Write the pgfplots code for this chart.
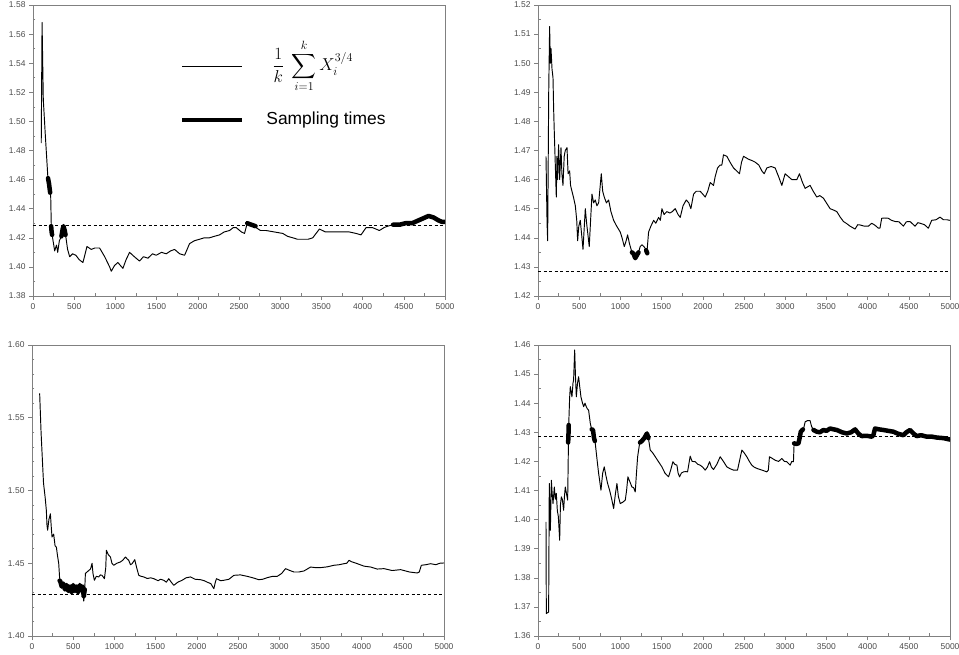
\documentclass[border=0pt]{standalone}
\usepackage{amsmath}
\usepackage{exscale}
\usepackage{fontspec}
\usepackage{pgfplots}
\pgfplotsset{compat=1.18}
\newfontfamily\lsans{Liberation Sans}

\pgfplotsset{
  panel/.style={
    scale only axis, width=412bp, height=291bp, anchor=south west,
    xmin=0, xmax=5000, xtick={0,500,...,5000}, minor x tick num=1,
    tick pos=left, tick align=outside,
    major tick length=4bp, minor tick length=-2.5bp,
    axis line style={black!50, line width=0.6bp},
    tick style={black!50, line width=0.5bp},
    ticklabel style={font=\lsans\fontsize{8.5}{9}\selectfont, text=black!70},
    /pgf/number format/assume math mode=true,
    x tick label style={/pgf/number format/1000 sep={}},
    y tick label style={/pgf/number format/fixed, /pgf/number format/fixed zerofill,
      /pgf/number format/precision=2},
    scaled ticks=false,
  },
  curve/.style={black, line width=0.95bp, line join=round},
  samp/.style={black, line width=4.5bp, line cap=round, line join=round},
  truth/.style={black, line width=0.6bp, dash pattern=on 3bp off 2.5bp},
}

\begin{document}
\begin{tikzpicture}
\path[use as bounding box] (0,0) rectangle (959bp,655bp);

% ---------- top left ----------
\begin{axis}[panel, at={(33bp,359bp)},
  ymin=1.38, ymax=1.58, ytick={1.38,1.40,1.42,1.44,1.46,1.48,1.50,1.52,1.54,1.56,1.58},
  minor y tick num=1,
  legend style={draw=none, fill=none, at={(0.356,0.883)}, anchor=north west,
    inner sep=0pt, nodes={inner sep=0pt, text depth=}, row sep=19bp,
    /tikz/every odd column/.append style={column sep=22bp}},
  legend cell align=left,
  legend image code/.code={\draw[#1] (0bp,0bp) -- (60bp,0bp);},
]
\addplot[truth, forget plot] coordinates {(0,1.4286) (5000,1.4286)};
\addplot[curve, forget plot] table {
100 1.485
110 1.568
125 1.515
150 1.490
180 1.462
200 1.455
215 1.448
222 1.428
232 1.422
263 1.411
285 1.415
300 1.410
320 1.418
345 1.421
370 1.428
395 1.422
420 1.412
445 1.407
480 1.409
520 1.408
560 1.405
606 1.403
655 1.414
707 1.412
750 1.413
808 1.413
870 1.407
930 1.400
950 1.397
990 1.401
1030 1.403
1091 1.399
1130 1.405
1172 1.410
1230 1.407
1293 1.404
1340 1.407
1395 1.406
1450 1.409
1495 1.408
1560 1.410
1617 1.409
1670 1.411
1718 1.412
1780 1.409
1840 1.408
1900 1.416
1960 1.418
2021 1.419
2080 1.420
2142 1.420
2200 1.421
2264 1.422
2320 1.424
2385 1.425
2430 1.427
2466 1.427
2530 1.424
2567 1.423
2600 1.430
2650 1.429
2708 1.427
2760 1.425
2829 1.425
2930 1.424
3031 1.423
3090 1.421
3153 1.420
3210 1.419
3274 1.419
3340 1.419
3395 1.420
3476 1.426
3550 1.424
3638 1.424
3740 1.424
3840 1.424
3920 1.423
3981 1.422
4042 1.427
4120 1.427
4204 1.425
4260 1.427
4305 1.428
4370 1.429
4450 1.429
4520 1.430
4600 1.430
4680 1.432
4760 1.434
4800 1.435
4860 1.434
4920 1.432
4960 1.431
5000 1.431
};
\addplot[samp, forget plot] coordinates {(182,1.461) (195,1.457) (208,1.451)};
\addplot[samp, forget plot] coordinates {(220,1.428) (226,1.424) (232,1.422)};
\addplot[samp, forget plot] coordinates {(345,1.421) (360,1.426) (370,1.428) (385,1.425) (395,1.422)};
\addplot[samp, forget plot] coordinates {(2600,1.430) (2650,1.429) (2700,1.428)};
\addplot[samp, forget plot] coordinates {(4370,1.429) (4450,1.429) (4520,1.430) (4600,1.430)
  (4680,1.432) (4760,1.434) (4800,1.435) (4860,1.434) (4920,1.432) (4960,1.431) (5000,1.431)};
\addlegendimage{black, line width=0.7bp}
\addlegendentry{\hspace*{6bp}\fontsize{18.5}{22}\selectfont$\displaystyle\frac{1}{k}\;\sum_{i=1}^{k}X_i^{3/4}$}
\addlegendimage{black, line width=4.5bp}
\addlegendentry{\lsans\fontsize{17.5}{20}\selectfont Sampling times}
\end{axis}

% ---------- top right ----------
\begin{axis}[panel, at={(538bp,359bp)},
  ymin=1.42, ymax=1.52, ytick={1.42,1.43,1.44,1.45,1.46,1.47,1.48,1.49,1.50,1.51,1.52},
  minor y tick num=1]
\addplot[truth] coordinates {(0,1.4286) (5000,1.4286)};
\addplot[curve] table {
97 1.468
110 1.445
117 1.439
130 1.490
141 1.5126
150 1.500
158 1.505
170 1.498
182 1.495
190 1.484
198 1.476
210 1.465
222 1.454
230 1.468
238 1.460
250 1.472
263 1.460
279 1.471
290 1.462
303 1.458
318 1.468
331 1.470
352 1.471
365 1.462
384 1.463
395 1.458
412 1.456
430 1.454
453 1.451
470 1.446
481 1.439
495 1.444
513 1.446
530 1.441
546 1.436
560 1.443
574 1.450
590 1.445
602 1.442
622 1.437
640 1.447
655 1.455
675 1.452
695 1.453
715 1.451
736 1.452
768 1.462
785 1.456
804 1.454
830 1.452
857 1.453
885 1.449
918 1.446
955 1.444
998 1.442
1020 1.440
1047 1.437
1070 1.439
1087 1.441
1110 1.438
1140 1.435
1160 1.4345
1180 1.433
1200 1.434
1220 1.435
1240 1.437
1261 1.4376
1285 1.437
1310 1.436
1322 1.435
1342 1.442
1370 1.444
1403 1.446
1430 1.445
1463 1.447
1485 1.446
1504 1.450
1530 1.448
1564 1.449
1600 1.4485
1630 1.449
1665 1.450
1700 1.448
1726 1.447
1760 1.451
1799 1.453
1830 1.452
1855 1.450
1888 1.455
1920 1.456
1968 1.456
2000 1.455
2029 1.454
2060 1.456
2090 1.459
2130 1.458
2150 1.461
2179 1.464
2210 1.465
2231 1.465
2251 1.4685
2292 1.468
2330 1.466
2373 1.464
2410 1.463
2445 1.462
2470 1.466
2494 1.468
2555 1.467
2600 1.4665
2635 1.466
2680 1.465
2716 1.463
2745 1.462
2777 1.464
2830 1.4645
2878 1.464
2920 1.461
2959 1.458
2999 1.462
3040 1.461
3080 1.460
3141 1.460
3173 1.462
3210 1.459
3242 1.457
3302 1.458
3340 1.456
3383 1.454
3420 1.4545
3464 1.4536
3500 1.452
3545 1.450
3590 1.4495
3626 1.449
3670 1.447
3707 1.4456
3750 1.4448
3787 1.444
3848 1.443
3880 1.4445
3909 1.4444
3960 1.4440
4010 1.444
4050 1.445
4090 1.4443
4131 1.4433
4150 1.4433
4171 1.4467
4210 1.4468
4252 1.4467
4290 1.446
4333 1.4456
4380 1.4455
4434 1.444
4470 1.4455
4515 1.4456
4545 1.4448
4576 1.444
4610 1.4452
4636 1.445
4690 1.4445
4737 1.4433
4778 1.446
4830 1.4462
4879 1.4471
4920 1.4462
4960 1.4462
5000 1.446
};
\addplot[samp] coordinates {(1140,1.435) (1160,1.4345) (1180,1.433) (1200,1.434) (1220,1.435)};
\addplot[samp] coordinates {(1312,1.4357) (1326,1.4347)};
\end{axis}

% ---------- bottom left ----------
\begin{axis}[panel, at={(32bp,19bp)},
  ymin=1.40, ymax=1.60, ytick={1.40,1.45,1.50,1.55,1.60},
  minor y tick num=4]
\addplot[truth] coordinates {(0,1.4286) (5000,1.4286)};
\addplot[curve] table {
93 1.5667
110 1.540
134 1.5117
140 1.505
150 1.500
160 1.495
174 1.4864
182 1.476
190 1.4727
205 1.480
223 1.484
235 1.474
243 1.468
263 1.470
280 1.462
296 1.461
310 1.455
324 1.450
335 1.440
344 1.4383
360 1.434
380 1.436
400 1.432
420 1.435
440 1.431
460 1.434
480 1.430
500 1.435
520 1.431
540 1.434
560 1.430
580 1.435
600 1.432
615 1.434
628 1.424
640 1.432
648 1.443
668 1.444
688 1.445
710 1.446
729 1.450
740 1.443
757 1.4383
780 1.441
810 1.4406
830 1.442
850 1.4417
879 1.4394
895 1.447
903 1.4589
925 1.456
952 1.4543
970 1.450
992 1.4486
1030 1.450
1073 1.4509
1100 1.452
1134 1.4543
1155 1.453
1174 1.452
1195 1.449
1215 1.4497
1247 1.4525
1270 1.447
1296 1.4417
1325 1.441
1356 1.4406
1400 1.4395
1440 1.440
1478 1.4394
1530 1.438
1560 1.439
1599 1.4383
1630 1.437
1660 1.4394
1690 1.437
1721 1.4348
1770 1.437
1822 1.4383
1870 1.440
1923 1.4406
1980 1.439
2045 1.4387
2090 1.438
2126 1.437
2170 1.436
2207 1.4325
2225 1.437
2239 1.4394
2290 1.438
2328 1.4383
2390 1.439
2450 1.4417
2530 1.442
2612 1.441
2680 1.440
2753 1.4387
2800 1.439
2855 1.4401
2920 1.441
2976 1.441
3030 1.443
3077 1.4463
3130 1.445
3178 1.444
3240 1.444
3300 1.4447
3340 1.446
3381 1.4474
3440 1.447
3502 1.447
3580 1.4475
3664 1.4486
3730 1.449
3786 1.4497
3820 1.450
3847 1.452
3880 1.451
3948 1.4497
4030 1.448
4110 1.4474
4190 1.446
4272 1.4463
4370 1.445
4474 1.4456
4580 1.444
4676 1.4433
4700 1.444
4725 1.4486
4780 1.449
4839 1.4497
4900 1.449
4950 1.450
5000 1.4502
};
\addplot[samp] coordinates {(335,1.438) (344,1.4375) (360,1.434) (380,1.436) (400,1.432)
  (420,1.435) (440,1.431) (460,1.434) (480,1.430) (500,1.435) (520,1.431) (540,1.434)
  (560,1.430) (580,1.435) (600,1.432) (615,1.434) (628,1.427) (640,1.432)};
\end{axis}

% ---------- bottom right ----------
\begin{axis}[panel, at={(538bp,19bp)},
  ymin=1.36, ymax=1.46, ytick={1.36,1.37,1.38,1.39,1.40,1.41,1.42,1.43,1.44,1.45,1.46},
  minor y tick num=1]
\addplot[truth] coordinates {(0,1.4286) (5000,1.4286)};
\addplot[curve] table {
97 1.3992
101 1.3677
115 1.368
129 1.3682
137 1.4124
150 1.3963
162 1.4135
172 1.409
182 1.4055
198 1.4112
210 1.407
222 1.409
235 1.403
247 1.401
263 1.3929
272 1.405
283 1.4078
295 1.407
311 1.4032
321 1.408
331 1.4112
345 1.409
360 1.4067
372 1.4319
384 1.4420
392 1.4457
412 1.4422
425 1.447
432 1.448
445 1.4583
455 1.449
465 1.4422
480 1.447
493 1.4491
505 1.446
521 1.4422
540 1.440
554 1.4388
570 1.440
586 1.4388
600 1.438
614 1.4376
635 1.433
652 1.431
667 1.4308
680 1.428
695 1.4262
715 1.421
736 1.4158
750 1.413
764 1.4101
785 1.416
804 1.4181
825 1.415
845 1.4124
870 1.410
897 1.4067
918 1.4038
940 1.409
958 1.4124
975 1.408
998 1.4055
1030 1.406
1059 1.4067
1075 1.410
1091 1.4147
1115 1.413
1140 1.4112
1160 1.411
1180 1.4095
1195 1.416
1209 1.4216
1233 1.4262
1260 1.427
1290 1.428
1322 1.4296
1340 1.428
1362 1.4239
1390 1.423
1423 1.4216
1460 1.420
1504 1.4181
1540 1.416
1584 1.4147
1610 1.417
1637 1.4199
1660 1.419
1686 1.4187
1700 1.416
1718 1.4147
1740 1.416
1766 1.4164
1790 1.4165
1815 1.4164
1847 1.4218
1870 1.420
1908 1.4199
1940 1.419
1968 1.4187
2000 1.418
2029 1.417
2055 1.418
2082 1.4199
2105 1.418
2130 1.4172
2170 1.419
2211 1.4216
2250 1.420
2292 1.4181
2330 1.4175
2373 1.417
2400 1.417
2421 1.417
2474 1.4239
2500 1.423
2534 1.4216
2565 1.420
2595 1.4187
2625 1.418
2656 1.4176
2720 1.417
2777 1.4164
2795 1.417
2809 1.4216
2845 1.421
2878 1.4204
2920 1.420
2959 1.421
2990 1.420
3019 1.4199
3060 1.4187
3080 1.420
3100 1.4199
3108 1.4262
3135 1.426
3161 1.4262
3175 1.428
3189 1.4302
3221 1.431
3242 1.4336
3270 1.434
3302 1.434
3320 1.432
3343 1.4308
3383 1.4302
3420 1.430
3464 1.4308
3500 1.4305
3545 1.4313
3590 1.431
3626 1.4308
3690 1.430
3747 1.4296
3800 1.430
3848 1.431
3890 1.4295
3929 1.4287
3990 1.4288
4050 1.4285
4070 1.429
4090 1.4313
4140 1.431
4191 1.4308
4250 1.4305
4313 1.4302
4370 1.4295
4434 1.429
4470 1.430
4515 1.4308
4560 1.4295
4596 1.4287
4650 1.429
4717 1.4285
4780 1.4285
4838 1.4282
4920 1.428
5000 1.4275
};
\addplot[samp] coordinates {(366,1.4265) (370,1.4295) (373,1.4325)};
\addplot[samp] coordinates {(652,1.431) (667,1.4308) (680,1.428) (690,1.427)};
\addplot[samp] coordinates {(1238,1.4265) (1260,1.427) (1290,1.428) (1322,1.4296) (1340,1.428)};
\addplot[samp] coordinates {(3108,1.4262) (3135,1.426) (3161,1.4262) (3175,1.428) (3189,1.4302) (3215,1.431)};
\addplot[samp] coordinates {(3343,1.4308) (3383,1.4302) (3420,1.430) (3464,1.4308) (3500,1.4305)
  (3545,1.4313) (3590,1.431) (3626,1.4308) (3690,1.430) (3747,1.4296) (3800,1.430) (3848,1.431)
  (3890,1.4295) (3929,1.4287) (3990,1.4288) (4050,1.4285) (4070,1.429) (4090,1.4313) (4140,1.431)
  (4191,1.4308) (4250,1.4305) (4313,1.4302) (4370,1.4295) (4434,1.429) (4470,1.430) (4515,1.4308)
  (4560,1.4295) (4596,1.4287) (4650,1.429) (4717,1.4285) (4780,1.4285) (4838,1.4282) (4920,1.428)
  (5000,1.4275)};
\end{axis}
\end{tikzpicture}
\end{document}
